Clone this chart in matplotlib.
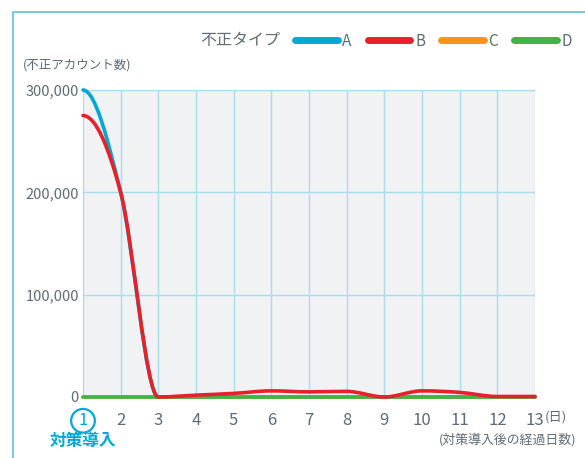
import numpy as np
import matplotlib
matplotlib.use("Agg")
import matplotlib.pyplot as plt
from matplotlib.path import Path
from matplotlib.patches import PathPatch, Rectangle
from matplotlib.lines import Line2D
from matplotlib.ticker import FuncFormatter

plt.rcParams["font.family"] = ["Noto Sans CJK JP", "DejaVu Sans"]

days = list(range(1, 14))
type_a = [300000, 200000, 0, 0, 0, 0, 0, 0, 0, 0, 0, 0, 0]
type_b = [275000, 200000, 0, 1800, 3500, 6000, 5000, 5500, 0, 6000, 4500, 500, 500]
type_c = [0, 0, 0, 0, 0, 0, 0, 0, 0, 0, 0, 0, 0]
type_d = [0, 0, 0, 0, 0, 0, 0, 0, 0, 0, 0, 0, 0]
type_names = ["A", "B", "C", "D"]
colors = ["#00a8d6", "#e8202a", "#f7941d", "#3db54a"]
day_labels = [str(d) for d in days]
y_ticks = [0, 100000, 200000, 300000]

text_gray = "#5f6b75"
grid_blue = "#a9dcec"
frame_blue = "#5cc0da"

W, H = 585, 458


def fx(px):
    return px / W


def fy(py):
    return 1 - py / H


def smooth_path(x, y):
    # monotone cubic, flat at both ends
    x = np.asarray(x, float)
    y = np.asarray(y, float)
    h = np.diff(x)
    s = np.diff(y) / h
    m = np.zeros_like(y)
    for i in range(1, len(y) - 1):
        if s[i - 1] * s[i] > 0:
            p = (s[i - 1] * h[i] + s[i] * h[i - 1]) / (h[i - 1] + h[i])
            m[i] = np.sign(s[i]) * min(abs(s[i - 1]), abs(s[i]), 0.5 * abs(p)) * 2
    verts = [(x[0], y[0])]
    codes = [Path.MOVETO]
    for i in range(len(x) - 1):
        verts += [(x[i] + h[i] / 3, y[i] + m[i] * h[i] / 3),
                  (x[i + 1] - h[i] / 3, y[i + 1] - m[i + 1] * h[i] / 3),
                  (x[i + 1], y[i + 1])]
        codes += [Path.CURVE4] * 3
    return Path(verts, codes)


fig = plt.figure(figsize=(W / 100, H / 100), dpi=100)
fig.patches.append(Rectangle((fx(12.5), -0.1), 1.2, fy(11.5) + 0.1, transform=fig.transFigure,
                             fill=False, ec=frame_blue, lw=1.2))

ax = fig.add_axes([fx(83), fy(397), fx(535) - fx(83), fy(90) - fy(397)])
ax.set_facecolor("#f1f2f4")
ax.set_xlim(1, 13)
ax.set_ylim(0, 300000)
for sp in ax.spines.values():
    sp.set_visible(False)
ax.set_xticks(days)
ax.set_yticks(y_ticks)
ax.grid(True, color=grid_blue, lw=1.0)
ax.set_axisbelow(True)
ax.tick_params(length=0)
ax.tick_params(axis="y", pad=3, labelsize=10.5, labelcolor=text_gray)
ax.tick_params(axis="x", pad=11, labelsize=12, labelcolor=text_gray)
ax.yaxis.set_major_formatter(FuncFormatter(lambda v, p: f"{int(v):,}"))
ax.set_xticklabels(day_labels)
first = ax.get_xticklabels()[0]
first.set_color(colors[0])
first.set_bbox(dict(boxstyle="circle,pad=0.2", fc="none", ec=colors[0], lw=1.6))

series = [type_a, type_b, type_c, type_d]
zorders = [3, 6, 4, 5]
for vals, c, z in zip(series, colors, zorders):
    patch = PathPatch(smooth_path(days, vals), fill=False, ec=c, lw=2.6,
                      capstyle="round", joinstyle="round", zorder=z, clip_on=False)
    ax.add_patch(patch)

handles = [Line2D([], [], color=c, lw=5, solid_capstyle="round") for c in colors]
fig.legend(handles, type_names, loc="center left", bbox_to_anchor=(fx(295), fy(41)),
           ncol=4, frameon=False, fontsize=11, labelcolor=text_gray,
           handlelength=2.8, handletextpad=0.3, columnspacing=1.05, borderpad=0,
           borderaxespad=0)
fig.text(fx(200), fy(41), "不正タイプ", fontsize=11.5, color=text_gray, va="center", ha="left")
fig.text(fx(23), fy(65), "(不正アカウント数)", fontsize=9, color=text_gray, va="center", ha="left")
fig.text(fx(545), fy(417), "(日)", fontsize=9.5, color=text_gray, va="center", ha="left")
fig.text(fx(577), fy(440), "(対策導入後の経過日数)", fontsize=9.3, color=text_gray,
         va="center", ha="right")
fig.text(fx(50), fy(441), "対策導入", fontsize=12, fontweight="bold", color=colors[0],
         va="center", ha="left")

fig.savefig("out.png", dpi=100)
